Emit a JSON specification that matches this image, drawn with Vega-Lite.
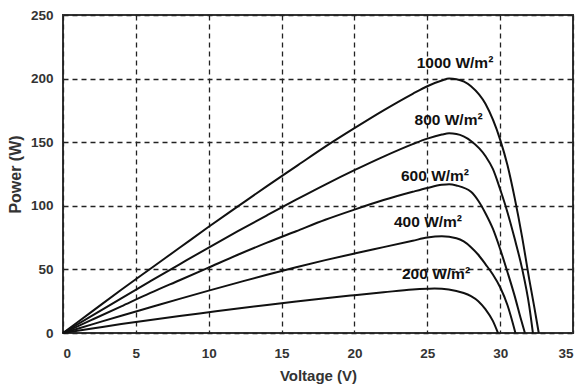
{
  "$schema": "https://vega.github.io/schema/vega-lite/v6.json",
  "width": 510,
  "height": 318,
  "autosize": {"type": "none"},
  "padding": {"left": 63, "top": 15, "right": 7, "bottom": 58},
  "background": "white",
  "config": {
    "view": {"stroke": "#333", "strokeWidth": 2},
    "font": "Liberation Sans",
    "axis": {
      "grid": true,
      "gridColor": "#222",
      "gridDash": [5, 4],
      "gridWidth": 1.3,
      "gridOpacity": 1,
      "domain": false,
      "ticks": false,
      "labelFont": "Liberation Sans",
      "labelFontWeight": "bold",
      "labelFontSize": 13.5,
      "labelColor": "#333",
      "titleFont": "Liberation Sans",
      "titleFontWeight": "bold",
      "titleColor": "#333"
    }
  },
  "datasets": {
    "curves": [
      {"irradiance": "1000", "voltage": 0, "power": 0},
      {"irradiance": "1000", "voltage": 2, "power": 17},
      {"irradiance": "1000", "voltage": 4, "power": 34},
      {"irradiance": "1000", "voltage": 6, "power": 50.5},
      {"irradiance": "1000", "voltage": 8, "power": 67},
      {"irradiance": "1000", "voltage": 10, "power": 83.5},
      {"irradiance": "1000", "voltage": 12, "power": 99.5},
      {"irradiance": "1000", "voltage": 14, "power": 115.5},
      {"irradiance": "1000", "voltage": 16, "power": 131},
      {"irradiance": "1000", "voltage": 18, "power": 146.5},
      {"irradiance": "1000", "voltage": 20, "power": 161},
      {"irradiance": "1000", "voltage": 22, "power": 175},
      {"irradiance": "1000", "voltage": 24, "power": 188},
      {"irradiance": "1000", "voltage": 25, "power": 194},
      {"irradiance": "1000", "voltage": 26, "power": 198.5},
      {"irradiance": "1000", "voltage": 26.5, "power": 200},
      {"irradiance": "1000", "voltage": 27, "power": 199.5},
      {"irradiance": "1000", "voltage": 28, "power": 194},
      {"irradiance": "1000", "voltage": 29, "power": 180},
      {"irradiance": "1000", "voltage": 30, "power": 152},
      {"irradiance": "1000", "voltage": 30.5, "power": 132},
      {"irradiance": "1000", "voltage": 31, "power": 106},
      {"irradiance": "1000", "voltage": 31.5, "power": 76},
      {"irradiance": "1000", "voltage": 32, "power": 42},
      {"irradiance": "1000", "voltage": 32.35, "power": 20},
      {"irradiance": "1000", "voltage": 32.65, "power": 0},

      {"irradiance": "800", "voltage": 0, "power": 0},
      {"irradiance": "800", "voltage": 2, "power": 13.7},
      {"irradiance": "800", "voltage": 4, "power": 27.3},
      {"irradiance": "800", "voltage": 6, "power": 40.7},
      {"irradiance": "800", "voltage": 8, "power": 54},
      {"irradiance": "800", "voltage": 10, "power": 67.2},
      {"irradiance": "800", "voltage": 12, "power": 80},
      {"irradiance": "800", "voltage": 14, "power": 92.5},
      {"irradiance": "800", "voltage": 16, "power": 104.8},
      {"irradiance": "800", "voltage": 18, "power": 116.7},
      {"irradiance": "800", "voltage": 20, "power": 128},
      {"irradiance": "800", "voltage": 22, "power": 138.7},
      {"irradiance": "800", "voltage": 24, "power": 148.5},
      {"irradiance": "800", "voltage": 25, "power": 152.8},
      {"irradiance": "800", "voltage": 26, "power": 156},
      {"irradiance": "800", "voltage": 26.5, "power": 157},
      {"irradiance": "800", "voltage": 27, "power": 156.5},
      {"irradiance": "800", "voltage": 28, "power": 151},
      {"irradiance": "800", "voltage": 29, "power": 139},
      {"irradiance": "800", "voltage": 29.5, "power": 129},
      {"irradiance": "800", "voltage": 30, "power": 113},
      {"irradiance": "800", "voltage": 30.5, "power": 95},
      {"irradiance": "800", "voltage": 31, "power": 74},
      {"irradiance": "800", "voltage": 31.5, "power": 51},
      {"irradiance": "800", "voltage": 32, "power": 21},
      {"irradiance": "800", "voltage": 32.25, "power": 0},

      {"irradiance": "600", "voltage": 0, "power": 0},
      {"irradiance": "600", "voltage": 2, "power": 10.5},
      {"irradiance": "600", "voltage": 4, "power": 21},
      {"irradiance": "600", "voltage": 6, "power": 31.5},
      {"irradiance": "600", "voltage": 8, "power": 41.5},
      {"irradiance": "600", "voltage": 10, "power": 51.5},
      {"irradiance": "600", "voltage": 12, "power": 61.5},
      {"irradiance": "600", "voltage": 14, "power": 71},
      {"irradiance": "600", "voltage": 16, "power": 80},
      {"irradiance": "600", "voltage": 18, "power": 89},
      {"irradiance": "600", "voltage": 20, "power": 97},
      {"irradiance": "600", "voltage": 22, "power": 104.5},
      {"irradiance": "600", "voltage": 24, "power": 111},
      {"irradiance": "600", "voltage": 25, "power": 114},
      {"irradiance": "600", "voltage": 26, "power": 116.5},
      {"irradiance": "600", "voltage": 26.5, "power": 117},
      {"irradiance": "600", "voltage": 27, "power": 116},
      {"irradiance": "600", "voltage": 28, "power": 111},
      {"irradiance": "600", "voltage": 28.5, "power": 104},
      {"irradiance": "600", "voltage": 29, "power": 94},
      {"irradiance": "600", "voltage": 29.5, "power": 82},
      {"irradiance": "600", "voltage": 30, "power": 66},
      {"irradiance": "600", "voltage": 30.5, "power": 48},
      {"irradiance": "600", "voltage": 31, "power": 29},
      {"irradiance": "600", "voltage": 31.4, "power": 12},
      {"irradiance": "600", "voltage": 31.7, "power": 0},

      {"irradiance": "400", "voltage": 0, "power": 0},
      {"irradiance": "400", "voltage": 2, "power": 6.8},
      {"irradiance": "400", "voltage": 4, "power": 13.6},
      {"irradiance": "400", "voltage": 6, "power": 20.2},
      {"irradiance": "400", "voltage": 8, "power": 26.8},
      {"irradiance": "400", "voltage": 10, "power": 33.3},
      {"irradiance": "400", "voltage": 12, "power": 39.6},
      {"irradiance": "400", "voltage": 14, "power": 45.8},
      {"irradiance": "400", "voltage": 16, "power": 51.7},
      {"irradiance": "400", "voltage": 18, "power": 57.3},
      {"irradiance": "400", "voltage": 20, "power": 62.5},
      {"irradiance": "400", "voltage": 22, "power": 67.5},
      {"irradiance": "400", "voltage": 24, "power": 72.5},
      {"irradiance": "400", "voltage": 25, "power": 75},
      {"irradiance": "400", "voltage": 26, "power": 76},
      {"irradiance": "400", "voltage": 27, "power": 74.5},
      {"irradiance": "400", "voltage": 27.5, "power": 72},
      {"irradiance": "400", "voltage": 28, "power": 67.5},
      {"irradiance": "400", "voltage": 28.5, "power": 61.5},
      {"irradiance": "400", "voltage": 29, "power": 54},
      {"irradiance": "400", "voltage": 29.5, "power": 46},
      {"irradiance": "400", "voltage": 30, "power": 36},
      {"irradiance": "400", "voltage": 30.5, "power": 22},
      {"irradiance": "400", "voltage": 31.05, "power": 0},

      {"irradiance": "200", "voltage": 0, "power": 0},
      {"irradiance": "200", "voltage": 2, "power": 3.5},
      {"irradiance": "200", "voltage": 4, "power": 7},
      {"irradiance": "200", "voltage": 6, "power": 10.3},
      {"irradiance": "200", "voltage": 8, "power": 13.4},
      {"irradiance": "200", "voltage": 10, "power": 16.3},
      {"irradiance": "200", "voltage": 12, "power": 19.2},
      {"irradiance": "200", "voltage": 14, "power": 22},
      {"irradiance": "200", "voltage": 16, "power": 24.7},
      {"irradiance": "200", "voltage": 18, "power": 27.3},
      {"irradiance": "200", "voltage": 20, "power": 29.7},
      {"irradiance": "200", "voltage": 22, "power": 32},
      {"irradiance": "200", "voltage": 24, "power": 34.2},
      {"irradiance": "200", "voltage": 25, "power": 34.8},
      {"irradiance": "200", "voltage": 25.5, "power": 35},
      {"irradiance": "200", "voltage": 26, "power": 34.8},
      {"irradiance": "200", "voltage": 27, "power": 33},
      {"irradiance": "200", "voltage": 27.5, "power": 31.5},
      {"irradiance": "200", "voltage": 28, "power": 29},
      {"irradiance": "200", "voltage": 28.5, "power": 25},
      {"irradiance": "200", "voltage": 29, "power": 18.5},
      {"irradiance": "200", "voltage": 29.5, "power": 9.5},
      {"irradiance": "200", "voltage": 29.85, "power": 0}
    ],
    "labels": [
      {"label": "1000 W/m²", "voltage": 26.9, "power": 212.3},
      {"label": "800 W/m²", "voltage": 26.46, "power": 167.1},
      {"label": "600 W/m²", "voltage": 25.53, "power": 123.4},
      {"label": "400 W/m²", "voltage": 25.05, "power": 86.9},
      {"label": "200 W/m²", "voltage": 25.6, "power": 46.4}
    ]
  },
  "layer": [
    {
      "data": {"name": "curves"},
      "mark": {"type": "line", "color": "#111", "strokeWidth": 2, "interpolate": "monotone"},
      "encoding": {
        "x": {
          "field": "voltage",
          "type": "quantitative",
          "scale": {"domain": [0, 35], "nice": false},
          "axis": {"values": [0, 5, 10, 15, 20, 25, 30, 35], "title": "Voltage (V)", "labelPadding": 13, "titlePadding": 9, "titleFontSize": 15}
        },
        "y": {
          "field": "power",
          "type": "quantitative",
          "scale": {"domain": [0, 250], "nice": false},
          "axis": {"values": [0, 50, 100, 150, 200, 250], "title": "Power (W)", "labelPadding": 10, "titlePadding": 7, "titleFontSize": 16}
        },
        "detail": {"field": "irradiance", "type": "nominal"}
      }
    },
    {
      "data": {"name": "labels"},
      "mark": {"type": "text", "font": "Liberation Sans", "fontWeight": "bold", "fontSize": 15.5, "color": "#111", "align": "center", "baseline": "middle"},
      "encoding": {
        "x": {"field": "voltage", "type": "quantitative"},
        "y": {"field": "power", "type": "quantitative"},
        "text": {"field": "label", "type": "nominal"}
      }
    }
  ]
}
